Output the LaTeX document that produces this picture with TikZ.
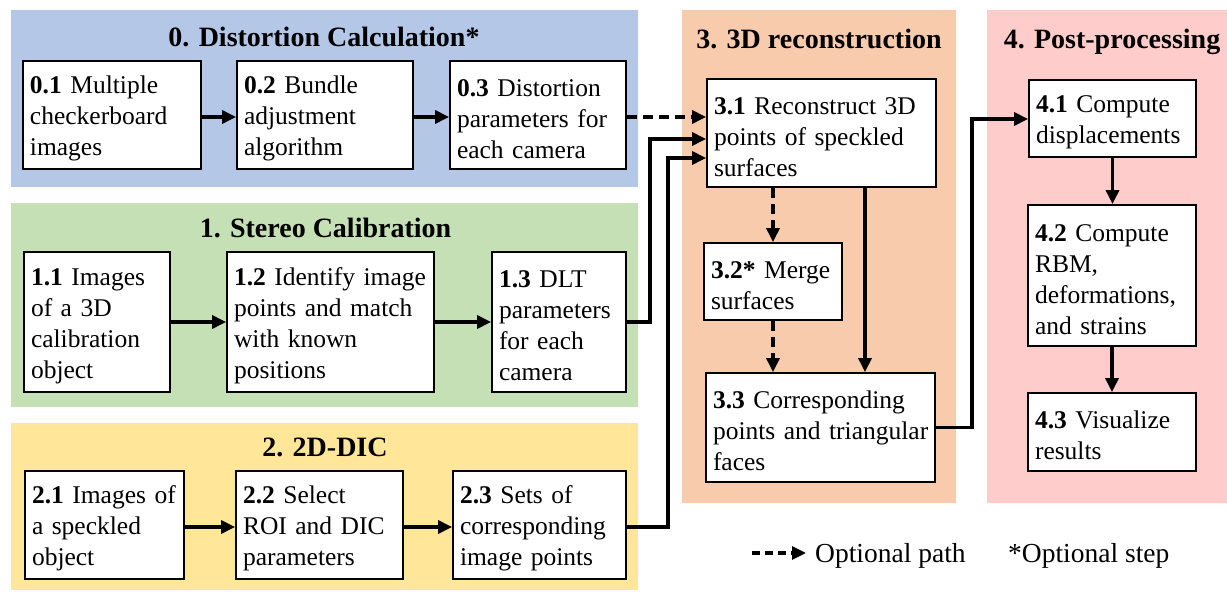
\documentclass[tikz,border=0pt]{standalone}
\usepackage{fontspec}
\setmainfont{Liberation Serif}
\usetikzlibrary{arrows.meta}
\definecolor{pblue}{HTML}{B4C7E7}
\definecolor{pgreen}{HTML}{C5E0B4}
\definecolor{pyellow}{HTML}{FFE699}
\definecolor{porange}{HTML}{F8CBAD}
\definecolor{ppink}{HTML}{FFCCCC}
\newcommand\nb[1]{\mbox{#1}}
\newcommand\firstln[1]{\mbox{\rule{0pt}{25pt}#1}}
\begin{document}
\begin{tikzpicture}[x=1pt,y=-1pt,
  stepbox/.style={draw=black, line width=1.8pt, fill=white, inner xsep=7pt, inner ysep=0pt, align=left, font=\fontsize{25.5}{31}\selectfont},
  ttl/.style={font=\fontsize{28}{33}\selectfont\bfseries, anchor=base, inner sep=0pt},
  lgd/.style={font=\fontsize{27.5}{32}\selectfont, anchor=base west, inner sep=0pt},
  conn/.style={line width=3.2pt, -{Triangle[length=14pt,width=13pt]}},
  opt/.style={conn, dash pattern=on 10pt off 6pt}]
\useasboundingbox (0,0) rectangle (1227,593);
% panels
\fill[pblue] (11,10) rectangle (638,187);
\fill[pgreen] (11,203) rectangle (638,407);
\fill[pyellow] (11,423) rectangle (638,590);
\fill[porange] (682,10) rectangle (956,503);
\fill[ppink] (987,10) rectangle (1227,503);
% titles
\node[ttl] (t0) at (324,47) {0. Distortion Calculation*};
\node[ttl] (t1) at (325.5,238) {1. Stereo Calibration};
\node[ttl] (t2) at (325,457) {2. 2D-DIC};
\node[ttl] (t3) at (819,49) {3. 3D reconstruction};
\node[ttl] (t4) at (1112,49) {4. Post-processing};
% boxes
\node[stepbox, text width=164pt, minimum height=108pt] (c01) at (112,115) {\firstln{\textbf{0.1} Multiple}\\\nb{checkerboard}\\\nb{images}};
\node[stepbox, text width=162pt, minimum height=108pt] (c02) at (325,115) {\firstln{\textbf{0.2} Bundle}\\\nb{adjustment}\\\nb{algorithm}};
\node[stepbox, text width=162pt, minimum height=108pt] (c03) at (538,115) {\firstln{\textbf{0.3} Distortion}\\\nb{parameters for}\\\nb{each camera}};
\node[stepbox, text width=132pt, minimum height=140pt] (c11) at (97,322) {\firstln{\textbf{1.1} Images}\\\nb{of a 3D}\\\nb{calibration}\\\nb{object}};
\node[stepbox, text width=193pt, minimum height=140pt] (c12) at (330.5,322) {\firstln{\textbf{1.2} Identify image}\\\nb{points and match}\\\nb{with known}\\\nb{positions}};
\node[stepbox, text width=120pt, minimum height=140pt] (c13) at (559,322) {\firstln{\textbf{1.3} DLT}\\\nb{parameters}\\\nb{for each}\\\nb{camera}};
\node[stepbox, text width=145pt, minimum height=108pt] (c21) at (104.5,525) {\firstln{\textbf{2.1} Images of}\\\nb{a speckled}\\\nb{object}};
\node[stepbox, text width=153pt, minimum height=108pt] (c22) at (319.5,525) {\firstln{\textbf{2.2} Select}\\\nb{ROI and DIC}\\\nb{parameters}};
\node[stepbox, text width=159pt, minimum height=108pt] (c23) at (539.5,525) {\firstln{\textbf{2.3} Sets of}\\\nb{corresponding}\\\nb{image points}};
\node[stepbox, text width=215pt, minimum height=108pt] (c31) at (821.5,133) {\firstln{\textbf{3.1} Reconstruct 3D}\\\nb{points of speckled}\\\nb{surfaces}};
\node[stepbox, text width=124pt, minimum height=77pt] (c32) at (773,281.5) {\firstln{\textbf{3.2*} Merge}\\\nb{surfaces}};
\node[stepbox, text width=215pt, minimum height=109pt] (c33) at (820.5,427.5) {\firstln{\textbf{3.3} Corresponding}\\\nb{points and triangular}\\\nb{faces}};
\node[stepbox, text width=153pt, minimum height=77pt] (c41) at (1112.5,118.5) {\firstln{\textbf{4.1} Compute}\\\nb{displacements}};
\node[stepbox, text width=154pt, minimum height=141pt] (c42) at (1112,275.5) {\firstln{\textbf{4.2} Compute}\\\nb{RBM,}\\\nb{deformations,}\\\nb{and strains}};
\node[stepbox, text width=154pt, minimum height=78pt] (c43) at (1112,432) {\firstln{\textbf{4.3} Visualize}\\\nb{results}};
% row connectors
\draw[conn] ([yshift=-2pt]c01.east) -- ([yshift=-2pt]c02.west);
\draw[conn] ([yshift=-2pt]c02.east) -- ([yshift=-2pt]c03.west);
\draw[conn] (c11.east) -- (c12.west);
\draw[conn] (c12.east) -- (c13.west);
\draw[conn] ([yshift=-2pt]c21.east) -- ([yshift=-2pt]c22.west);
\draw[conn] ([yshift=-2pt]c22.east) -- ([yshift=-2pt]c23.west);
% into 3.1
\draw[opt] ([yshift=-2pt]c03.east) -- ([yshift=-2pt]c03.east -| c31.west);
\coordinate (j1) at (650,139);
\coordinate (j2) at (668,158);
\draw[conn] (c13.east) -| (j1) -- (j1 -| c31.west);
\draw[conn] ([yshift=-2pt]c23.east) -| (j2) -- (j2 -| c31.west);
% within 3
\coordinate (v3) at (865,0);
\draw[conn] (c31.south -| v3) -- (c33.north -| v3);
\draw[opt] (c31.south -| c32.north) -- (c32.north);
\draw[opt] (c32.south) -- (c32.south |- c33.north);
% 3 to 4
\coordinate (j3) at (972,119);
\draw[conn] (c33.east) -| (j3) -- (j3 -| c41.west);
\draw[conn] (c41.south) -- (c41.south |- c42.north);
\draw[conn] (c42.south) -- (c43.north);
% legend
\coordinate (lgA) at (752,553);
\coordinate (lgB) at (806,553);
\draw[opt, dash pattern=on 8pt off 5pt] (lgA) -- (lgB);
\node[lgd] (lg1) at (815,562) {Optional path};
\node[lgd] (lg2) at (1008,562) {*Optional step};
\end{tikzpicture}
\end{document}
